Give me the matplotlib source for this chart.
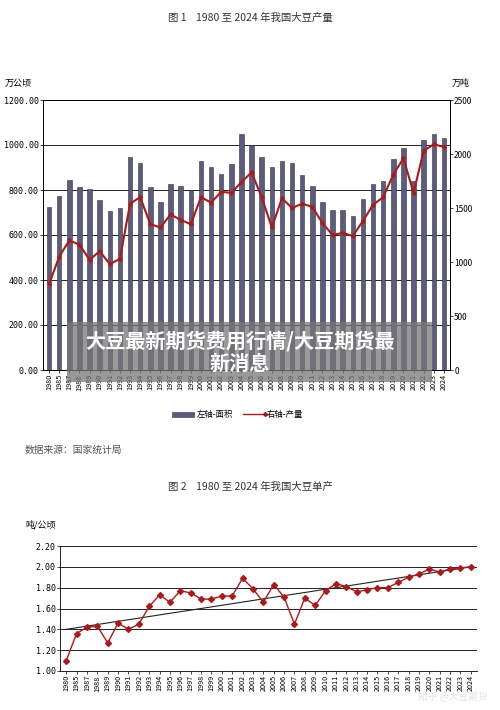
import matplotlib
matplotlib.use('Agg')
import matplotlib.pyplot as plt
from matplotlib.patches import Rectangle
import numpy as np

plt.rcParams['font.family'] = ['Noto Sans CJK SC', 'DejaVu Sans']

years = ['1980', '1985'] + [str(y) for y in range(1987, 2025)]
area = [725, 772, 845, 813, 805, 757, 706, 722, 946, 922, 813, 747, 825, 820, 797,
        931, 902, 873, 915, 1047, 999, 947, 901, 929, 919, 866, 816, 747, 711, 711,
        684, 762, 825, 841, 937, 988, 841, 1024, 1047, 1033]
output = [794, 1050, 1200, 1160, 1020, 1100, 980, 1030, 1540, 1600, 1350, 1320, 1440,
          1390, 1350, 1600, 1550, 1650, 1640, 1740, 1830, 1600, 1320, 1590, 1500, 1540,
          1510, 1360, 1250, 1270, 1240, 1380, 1530, 1600, 1810, 1960, 1640, 2030, 2090, 2065]
yld = [1.10, 1.36, 1.42, 1.43, 1.27, 1.46, 1.40, 1.45, 1.62, 1.73, 1.66, 1.77, 1.75,
       1.69, 1.69, 1.72, 1.72, 1.89, 1.79, 1.66, 1.83, 1.71, 1.45, 1.70, 1.63, 1.77,
       1.84, 1.81, 1.76, 1.78, 1.80, 1.80, 1.85, 1.90, 1.93, 1.98, 1.95, 1.98, 1.99, 2.00]
trend = [1.40, 2.00]

bar_c = '#5c5c80'
line_c = '#b01818'
fs = 6

fig = plt.figure(figsize=(5, 7.1), dpi=100)
W, H = 500, 710
def rect(l, t, r, b):
    return [l / W, 1 - b / H, (r - l) / W, (b - t) / H]

x = np.arange(len(years))

fig.text(0.5, 1 - 18 / H, '图 1    1980 至 2024 年我国大豆产量', ha='center', va='center', fontsize=7.5, color='#333')
ax1 = fig.add_axes(rect(43, 100, 450, 370))
ax1.bar(x, area, width=0.45, color=bar_c, edgecolor='#333', linewidth=0.4, zorder=2)
ax1.set_ylim(0, 1200)
ax1.set_xlim(-0.6, len(years) - 0.4)
ax1.set_yticks(np.arange(0, 1201, 200))
ax1.set_yticklabels(['%.2f' % v for v in np.arange(0, 1201, 200)], fontsize=fs, family='DejaVu Sans Mono')
ax1.grid(axis='y', color='#222', linewidth=0.7, zorder=0)
ax1.set_xticks(x)
ax1.set_xticklabels(years, rotation=90, fontsize=5.2)
ax1.tick_params(length=2, width=0.5, pad=1)
ax2 = ax1.twinx()
ax2.plot(x, output, color=line_c, marker='D', markersize=1.8, linewidth=1.5, zorder=3)
ax2.set_ylim(0, 2500)
ax2.set_yticks(np.arange(0, 2501, 500))
ax2.tick_params(labelsize=fs, length=2, width=0.5, pad=1)
for a in (ax1, ax2):
    for s in a.spines.values():
        s.set_linewidth(0.6)
ax2.spines['top'].set_visible(False)
fig.text(5 / W, 1 - 83 / H, '万公顷', fontsize=6.5, va='center')
fig.text(452 / W, 1 - 83 / H, '万吨', fontsize=6.5, va='center')

# legend
fig.patches.append(Rectangle((172 / W, 1 - 417 / H), 22 / W, 5 / H, transform=fig.transFigure,
                             facecolor=bar_c, edgecolor='#333', linewidth=0.4))
fig.text(197 / W, 1 - 414 / H, '左轴-面积', fontsize=6, va='center')
fig.lines.append(plt.Line2D([243 / W, 265 / W], [1 - 414 / H] * 2, transform=fig.transFigure,
                            color=line_c, marker='D', markersize=2, markevery=[1], linewidth=1))
fig.text(267 / W, 1 - 414 / H, '右轴-产量', fontsize=6, va='center')

fig.text(25 / W, 1 - 450 / H, '数据来源：国家统计局', fontsize=7, va='center', color='#555')

fig.text(0.5, 1 - 487 / H, '图 2    1980 至 2024 年我国大豆单产', ha='center', va='center', fontsize=7.5, color='#333')
ax3 = fig.add_axes(rect(60, 546, 477, 671))
ax3.plot(x, yld, color=line_c, marker='D', markersize=3, linewidth=1, zorder=3)
ax3.plot([x[0], x[-1]], trend, color='#222', linewidth=0.8, zorder=2)
ax3.set_ylim(1.0, 2.2)
ax3.set_xlim(-0.6, len(years) - 0.4)
ax3.set_yticks(np.arange(1.0, 2.21, 0.2))
ax3.set_yticklabels(['%.2f' % v for v in np.arange(1.0, 2.21, 0.2)], fontsize=fs, family='DejaVu Sans Mono')
ax3.grid(axis='y', color='#222', linewidth=0.7, zorder=0)
ax3.set_xticks(x)
ax3.set_xticklabels(years, rotation=90, fontsize=5.2)
ax3.tick_params(length=2, width=0.5, pad=1)
for k in ('top', 'right'):
    ax3.spines[k].set_visible(False)
ax3.spines['left'].set_linewidth(0.6)
ax3.spines['bottom'].set_linewidth(0.6)
fig.text(25 / W, 1 - 525 / H, '吨/公顷', fontsize=6.5, va='center')

# overlay banner
fig.patches.append(Rectangle((67 / W, 1 - 382 / H), 365 / W, 60 / H, transform=fig.transFigure,
                             facecolor='#777', alpha=0.75, edgecolor='none', zorder=10))
fig.text(0.48, 1 - 352 / H, '大豆最新期货费用行情/大豆期货最\n新消息', ha='center', va='center',
         fontsize=14.5, fontweight='bold', color='white', linespacing=1.1, zorder=11)
fig.text(488 / W, 1 - 697 / H, '知乎 @大豆期货', ha='right', va='center', fontsize=7, color='#e4e4e4', zorder=11)

fig.savefig('out.png', dpi=100)
